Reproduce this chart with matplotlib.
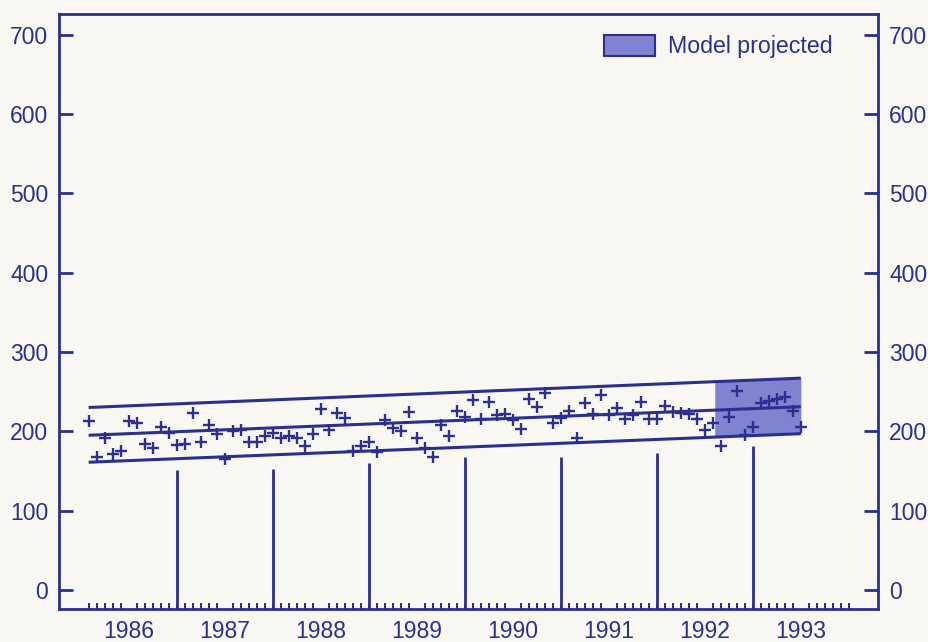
import numpy as np
import matplotlib.pyplot as plt
from matplotlib.patches import Patch

plt.rcParams['font.family'] = ['Liberation Sans', 'DejaVu Sans']

ink = '#2b2f8f'
shade = '#8083cf'
paper = '#f8f7f2'

# monthly observations, Feb 1986 .. Jul 1993
obs_start = 1986.08
obs = [213.6, 167, 191, 171, 175, 213.5, 210, 184.5, 179, 205,
       197.5, 183, 184.5, 223, 187, 208, 196.5, 165.5, 200, 201,
       187, 187, 193.5, 198, 191, 193.5, 192, 181, 196.5, 228.5,
       201, 223.5, 217, 175, 181, 187, 174.5, 214.5, 204, 200,
       224, 191, 179, 167.5, 208, 194, 225, 218.5, 240, 215.5,
       237, 220, 222, 214, 202.5, 241, 231, 248, 211, 217,
       225, 191, 236, 222, 245.5, 221, 229, 215, 220, 237,
       215.5, 215, 232, 224, 223.5, 222, 215.5, 202, 210, 182,
       218.5, 251, 195, 205, 236, 238, 241, 243.5, 225, 206]

# fitted trend and band (values at first and last month)
trend_mid = [195, 231]
trend_upper = [230, 267]
trend_lower = [161, 197]

# start of the projected period
proj_start = 1992.6

# year separators and how high they reach
sep_years = [1987, 1988, 1989, 1990, 1991, 1992, 1993]
sep_tops = [151, 152, 160, 167, 167, 173, 182]

year_labels = ['1986', '1987', '1988', '1989', '1990', '1991', '1992', '1993']
y_ticks = [0, 100, 200, 300, 400, 500, 600, 700]

t = obs_start + np.arange(len(obs)) / 12.0
t_ends = [t[0], t[-1]]

fig = plt.figure(figsize=(9.29, 6.42), dpi=100, facecolor=paper)
ax = fig.add_axes([0.0638, 0.0514, 0.8813, 0.9268])
ax.set_facecolor(paper)
ax.set_xlim(1985.774, 1994.30)
ax.set_ylim(-24, 726)

# projected region shaded between the band lines
tp = np.array([proj_start, t[-1]])
ax.fill_between(tp, np.interp(tp, t_ends, trend_lower),
                np.interp(tp, t_ends, trend_upper),
                color=shade, lw=0, zorder=1)

for vals in (trend_upper, trend_mid, trend_lower):
    ax.plot(t_ends, vals, color=ink, lw=2.2, solid_capstyle='butt', zorder=2)

ax.plot(t, obs, linestyle='none', marker='+', ms=8.5, mew=1.7, color=ink, zorder=3)

ax.vlines(sep_years, -24, sep_tops, color=ink, lw=2.0, zorder=2)

for s in ax.spines.values():
    s.set_color(ink)
    s.set_linewidth(2.0)

ax.set_yticks(y_ticks)
ax.tick_params(axis='y', which='major', direction='in', length=10, width=2,
               color=ink, labelcolor=ink, labelsize=16.5, pad=8,
               left=True, right=True, labelleft=True, labelright=True)

ax.set_xticks([int(y) + 0.5 for y in year_labels])
ax.set_xticklabels(year_labels)
ax.set_xticks(1986 + np.arange(1, 97) / 12.0, minor=True)
ax.tick_params(axis='x', which='major', length=0, labelcolor=ink,
               labelsize=16.5, pad=8)
ax.tick_params(axis='x', which='minor', direction='in', length=4.5,
               width=1.4, color=ink)

handle = Patch(facecolor=shade, edgecolor=ink, linewidth=1.5, label='Model projected')
ax.legend(handles=[handle], loc='upper left', bbox_to_anchor=(0.651, 0.985),
          frameon=False, fontsize=16.7, labelcolor=ink, borderpad=0,
          handlelength=2.2, handleheight=1.05, handletextpad=0.55)

fig.savefig('out.png', dpi=100, facecolor=paper)
